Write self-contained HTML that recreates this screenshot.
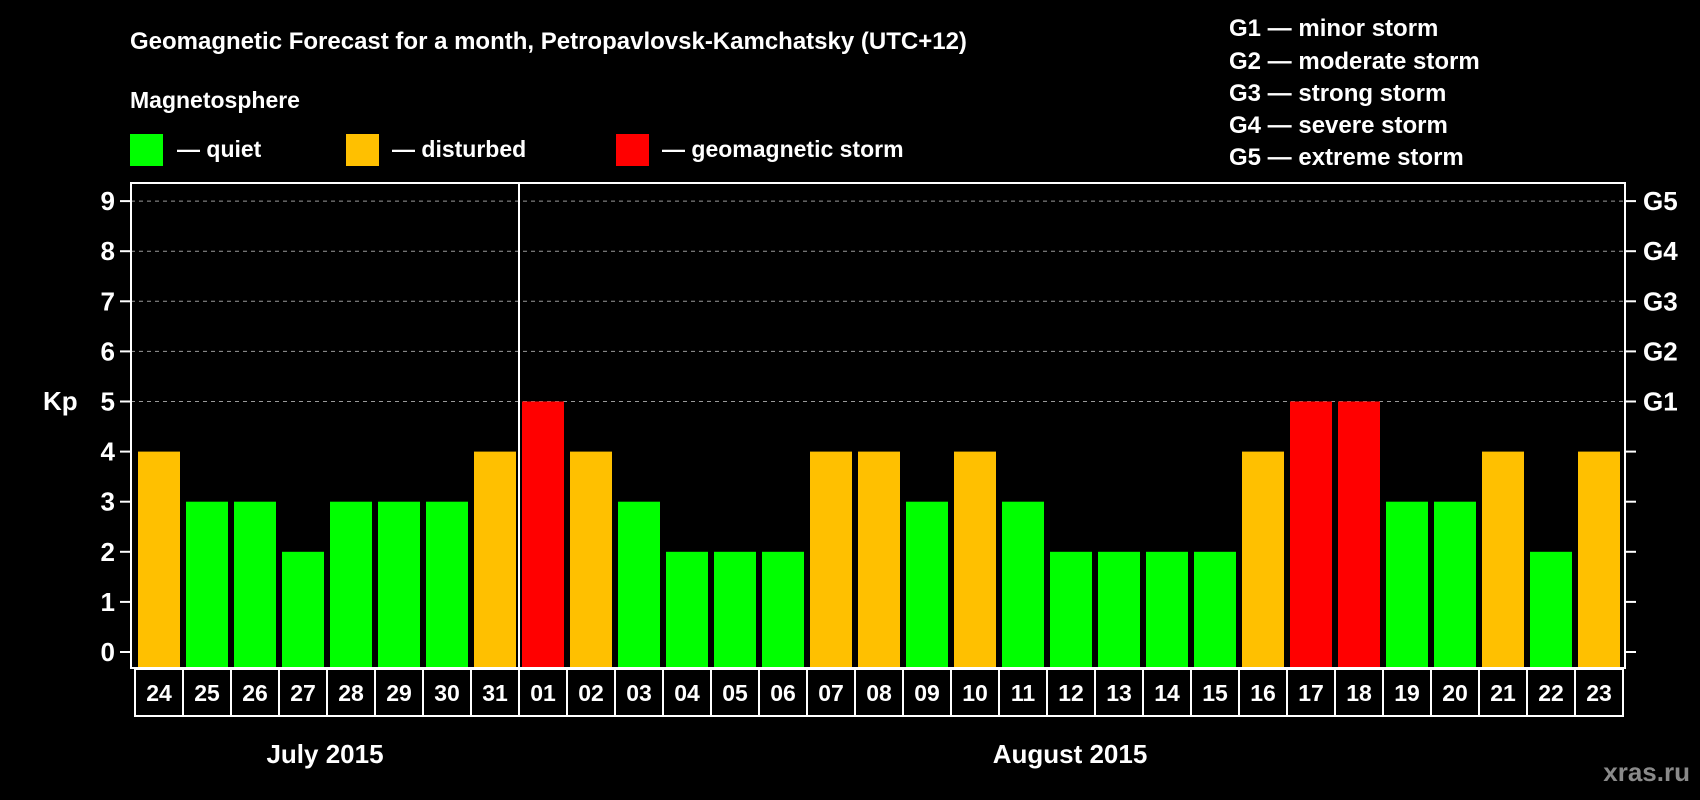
<!DOCTYPE html>
<html><head><meta charset="utf-8"><style>
body{margin:0;background:#000;width:1700px;height:800px;overflow:hidden}
svg{display:block;font-family:"Liberation Sans",Arial,sans-serif;font-weight:bold}
</style></head><body>
<svg id="chart" width="1700" height="800">
<rect width="1700" height="800" fill="#000"/>
<text x="130" y="49" fill="#fff" font-size="24">Geomagnetic Forecast for a month, Petropavlovsk-Kamchatsky (UTC+12)</text>
<text x="130" y="108" fill="#fff" font-size="23">Magnetosphere</text>
<g><rect x="130" y="134" width="33" height="32" fill="#00ff00"/><text x="177" y="157" fill="#fff" font-size="23">— quiet</text></g>
<g><rect x="346" y="134" width="33" height="32" fill="#ffc000"/><text x="392" y="157" fill="#fff" font-size="23">— disturbed</text></g>
<g><rect x="616" y="134" width="33" height="32" fill="#ff0000"/><text x="662" y="157" fill="#fff" font-size="23">— geomagnetic storm</text></g>
<g fill="#fff" font-size="24">
<text x="1229" y="36">G1 — minor storm</text>
<text x="1229" y="69">G2 — moderate storm</text>
<text x="1229" y="101">G3 — strong storm</text>
<text x="1229" y="133">G4 — severe storm</text>
<text x="1229" y="165">G5 — extreme storm</text>
</g>
<text x="43" y="410" fill="#fff" font-size="26">Kp</text>
<g id="grid"></g><g id="bars"></g><g id="axes"></g><g id="dates"></g>
<text x="325" y="763" fill="#fff" font-size="26" text-anchor="middle">July 2015</text>
<text x="1070" y="763" fill="#fff" font-size="26" text-anchor="middle">August 2015</text>
<text x="1690" y="781" fill="#8a8a8a" font-size="26" text-anchor="end">xras.ru</text>
</svg>
<script>
const days=["24","25","26","27","28","29","30","31","01","02","03","04","05","06","07","08","09","10","11","12","13","14","15","16","17","18","19","20","21","22","23"];
const kp=[4,3,3,2,3,3,3,4,5,4,3,2,2,2,4,4,3,4,3,2,2,2,2,4,5,5,3,3,4,2,4];
const yTicks=[0,1,2,3,4,5,6,7,8,9];
const gLabels=["","","","","","G1","G2","G3","G4","G5"];
const NS="http://www.w3.org/2000/svg";
const L=131,R=1625,T=183,B=668;
const y=v=>652-v*50.1;
const xb=i=>138+i*48;
function mk(t,a,p){const e=document.createElementNS(NS,t);for(const k in a)e.setAttribute(k,a[k]);p.appendChild(e);return e;}
const grid=document.getElementById('grid'),bars=document.getElementById('bars'),axes=document.getElementById('axes'),dates=document.getElementById('dates');
yTicks.forEach((v,i)=>{
 if(v>=5){const g=mk('line',{x1:L,x2:R,y1:y(v),y2:y(v),stroke:'#999','stroke-dasharray':'4 4','stroke-width':1},grid);
 
 }
 const t=mk('line',{x1:L-11,x2:L,y1:y(v),y2:y(v),stroke:'#fff','stroke-width':2},axes);
 
 
 const t2=mk('line',{x1:R,x2:R+11,y1:y(v),y2:y(v),stroke:'#fff','stroke-width':2},axes);
 
 
 const lb=mk('text',{x:115,y:y(v)+9,fill:'#fff','font-size':26,'text-anchor':'end'},axes);lb.textContent=v;
 
 
 if(gLabels[i]){const gl=mk('text',{x:1643,y:y(v)+9,fill:'#fff','font-size':26},axes);gl.textContent=gLabels[i];
 
 }
});
kp.forEach((v,i)=>{
 const c=v>=5?'#ff0000':(v>=4?'#ffc000':'#00ff00');
 const r=mk('rect',{x:xb(i),y:y(v),width:42,height:B-y(v),fill:c},bars);
 
 
});
const fr=mk('rect',{x:L,y:T,width:R-L,height:B-T,fill:'none',stroke:'#fff','stroke-width':2},axes);


const dv=mk('line',{x1:519,x2:519,y1:T,y2:B,stroke:'#fff','stroke-width':2},axes);


days.forEach((d,i)=>{
 const bx=mk('rect',{x:135+i*48,y:669,width:48,height:47,fill:'#000',stroke:'#fff','stroke-width':2},dates);
 
 
 const t=mk('text',{x:159+i*48,y:701,fill:'#fff','font-size':23,'text-anchor':'middle'},dates);t.textContent=d;
 
 
});
</script>
</body></html>
